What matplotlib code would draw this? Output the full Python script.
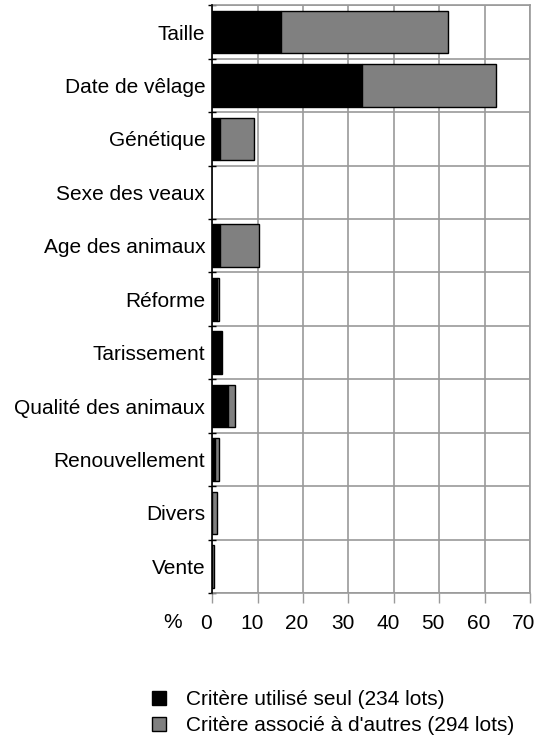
import numpy as np
import matplotlib
matplotlib.use("Agg")
import matplotlib.pyplot as plt
import matplotlib.transforms as mtransforms

plt.rcParams['font.family'] = ['Liberation Sans', 'DejaVu Sans']

# data (% of lots)
criteres = ["Taille", "Date de vêlage", "Génétique", "Sexe des veaux",
            "Age des animaux", "Réforme", "Tarissement", "Qualité des animaux",
            "Renouvellement", "Divers", "Vente"]
seul = [15.2, 33.0, 1.7, 0.0, 1.6, 1.0, 2.2, 3.4, 0.5, 0.0, 0.0]
associe = [36.8, 29.6, 7.4, 0.0, 8.7, 0.5, 0.0, 1.7, 1.0, 1.0, 0.4]
xticks = [0, 10, 20, 30, 40, 50, 60, 70]
label_seul = "Critère utilisé seul (234 lots)"
label_associe = "Critère associé à d'autres (294 lots)"

W, H = 536, 737
fig = plt.figure(figsize=(W / 100, H / 100), dpi=100)
ax = fig.add_axes([212.3 / W, 1 - 593 / H, (530 - 212.3) / W, (593 - 5.4) / H])

grid_col = "#9a9a9a"
fs = 15

y = np.arange(len(criteres)) + 0.5
# no outline for empty segments
edge1 = ["black" if v > 0 else "none" for v in seul]
edge2 = ["black" if v > 0 else "none" for v in associe]
b1 = ax.barh(y, seul, height=0.8, color="black", edgecolor=edge1, linewidth=1, zorder=3,
             label=label_seul)
b2 = ax.barh(y, associe, left=seul, height=0.8, color="#808080", edgecolor=edge2,
             linewidth=1, zorder=3, label=label_associe)

ax.set_xlim(0, 70)
ax.set_ylim(len(criteres), 0)

# category boundaries as major ticks, names on minor ticks
ax.set_yticks(np.arange(len(criteres) + 1))
ax.set_yticklabels([])
ax.set_yticks(y, minor=True)
ax.set_yticklabels(criteres, minor=True, fontsize=fs)
ax.tick_params(axis="y", which="minor", length=0, pad=5)
ax.tick_params(axis="y", which="major", direction="inout", length=6, width=1, color="black")

ax.set_xticks(xticks)
ax.set_xticklabels([str(v) for v in xticks], fontsize=fs)
ax.tick_params(axis="x", direction="out", length=7.5, width=1, color=grid_col, pad=7.5)
shift = mtransforms.ScaledTranslation(-6 / 100, 0, fig.dpi_scale_trans)
for lab in ax.get_xticklabels():
    lab.set_transform(lab.get_transform() + shift)

ax.text(-8.7, -0.0495, "%", transform=ax.get_xaxis_transform(), ha="center", va="center",
        fontsize=fs)

ax.grid(True, which="major", color=grid_col, linewidth=1.2, zorder=0)
ax.set_axisbelow(True)
for side in ["top", "right", "bottom"]:
    ax.spines[side].set_color(grid_col)
    ax.spines[side].set_linewidth(1.2)
ax.spines["left"].set_color("black")
ax.spines["left"].set_linewidth(1.2)
ax.spines["left"].set_zorder(4)

fig.legend(handles=[b1, b2], loc="upper left", bbox_to_anchor=(152 / W, 1 - 690 / H),
           frameon=False, fontsize=fs, handlelength=0.67, handleheight=0.67,
           handletextpad=0.95, labelspacing=0.34, borderpad=0, borderaxespad=0)

fig.savefig("out.png", dpi=100)
